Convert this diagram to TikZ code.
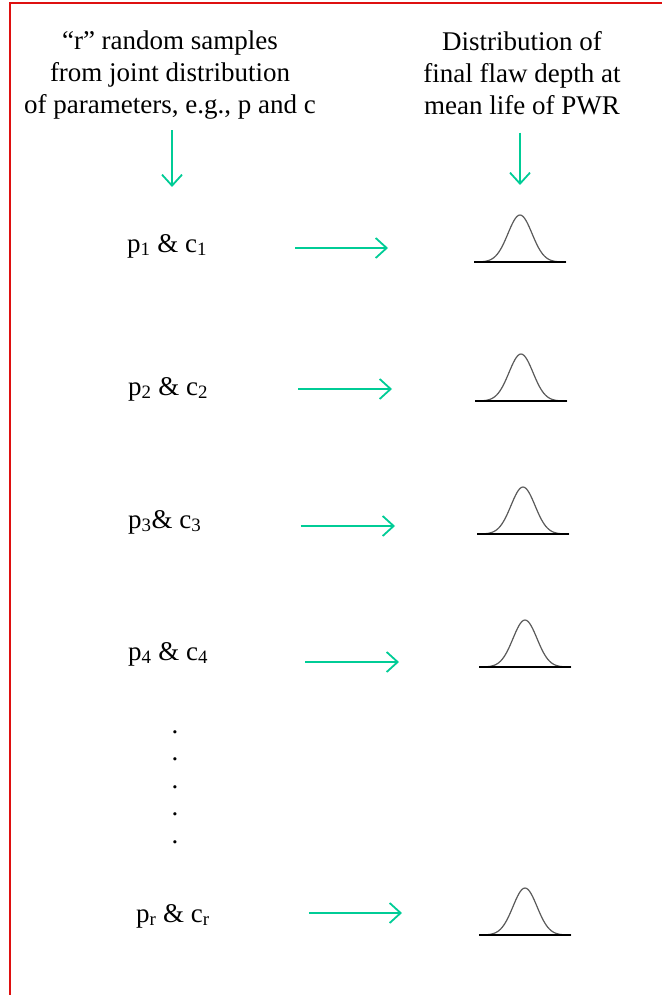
\documentclass[tikz,border=0pt]{standalone}
\usepackage{fontspec}
\setmainfont{Liberation Serif}
\usetikzlibrary{arrows.meta}
\definecolor{flowgreen}{RGB}{0,204,150}
\definecolor{framered}{RGB}{222,16,16}

\begin{document}
\begin{tikzpicture}[x=1pt, y=-1pt,
    % Estilos
    header/.style={
        align=center, inner sep=0pt, font=\fontsize{27}{32}\selectfont
    },
    pairlabel/.style={
        anchor=base west, inner sep=0pt, font=\fontsize{27}{32}\selectfont
    },
    flow/.style={
        -{Straight Barb[length=11pt, width=20pt]}, line width=1.8pt, draw=flowgreen
    },
    bellline/.style={line width=1.2pt, draw=black!65},
    frameline/.style={line width=2pt, draw=framered},
    bell/.pic={
        \draw[bellline] plot[domain=-46:46, samples=61, smooth] (\x, {-47*exp(-\x*\x/288)});
        \draw[line width=1.1pt] (-46,0) -- (46,0);
    }
]
\useasboundingbox (0,0) rectangle (662,995);

% =============================================
% MARCO
% =============================================
\draw[frameline] (9.5,995) -- (9.5,3.5) -- (662,3.5);

% =============================================
% ENCABEZADOS
% =============================================
\node[header, anchor=base] (samples) at (170,114)
    {“r” random samples\\from joint distribution\\of parameters, e.g., p and c};
\node[header, anchor=base] (flawdist) at (522,115)
    {Distribution of\\final flaw depth at\\mean life of PWR};

\coordinate (leftTip) at (172,187);
\coordinate (rightTip) at (520,185);
\draw[flow, shorten <=10pt] (samples.south -| leftTip) -- (leftTip);
\draw[flow, shorten <=17pt] (flawdist.south -| rightTip) -- (rightTip);

% =============================================
% MUESTRAS
% =============================================
\node[pairlabel] (pc1) at (127,252) {p\textsubscript{1} \& c\textsubscript{1}};
\node[pairlabel] (pc2) at (128,395) {p\textsubscript{2} \& c\textsubscript{2}};
\node[pairlabel] (pc3) at (128,528) {p\textsubscript{3}\& c\textsubscript{3}};
\node[pairlabel] (pc4) at (128,660) {p\textsubscript{4} \& c\textsubscript{4}};
\node[pairlabel] (pcr) at (136,922) {p\textsubscript{r} \& c\textsubscript{r}};

% Puntos suspensivos
\node[header, anchor=base, font=\fontsize{27}{27.5}\selectfont] (dots) at (175,843)
    {.\\.\\.\\.\\.};

% =============================================
% FLECHAS Y DISTRIBUCIONES
% =============================================
\coordinate (to1) at (388,248);
\coordinate (to2) at (392,389);
\coordinate (to3) at (395,526);
\coordinate (to4) at (399,662);
\coordinate (tor) at (402,913);

\draw[flow, shorten <=88pt] (pc1.east |- to1) -- (to1);
\draw[flow, shorten <=90pt] (pc2.east |- to2) -- (to2);
\draw[flow, shorten <=99pt] (pc3.east |- to3) -- (to3);
\draw[flow, shorten <=97pt] (pc4.east |- to4) -- (to4);
\draw[flow, shorten <=99pt] (pcr.east |- tor) -- (tor);

\pic at (520,262) {bell};
\pic at (521,401) {bell};
\pic at (523,534) {bell};
\pic at (525,667) {bell};
\pic at (525,935) {bell};

\end{tikzpicture}
\end{document}
